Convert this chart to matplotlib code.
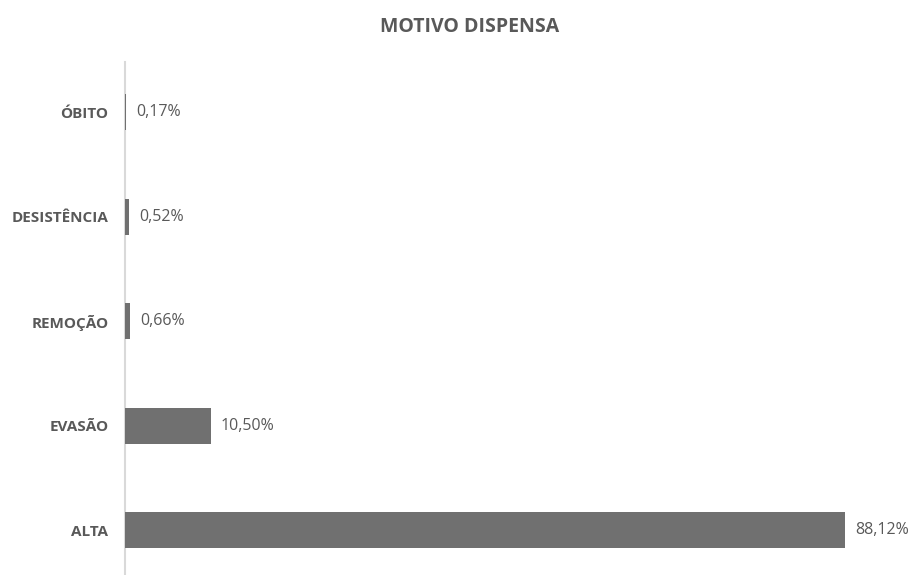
import matplotlib.pyplot as plt

plt.rcParams['font.family'] = ['Open Sans', 'DejaVu Sans']

categorias = ["ALTA", "EVASÃO", "REMOÇÃO", "DESISTÊNCIA", "ÓBITO"]
percentuais = [88.12, 10.50, 0.66, 0.52, 0.17]
rotulos = ["88,12%", "10,50%", "0,66%", "0,52%", "0,17%"]

cinza = "#707070"
texto = "#595959"

fig = plt.figure(figsize=(9.14, 5.75), dpi=100)
ax = fig.add_axes([125 / 914, 0.0, 755 / 914, 513 / 575])

pos = range(len(categorias))
# barras acima do eixo para a de ÓBITO aparecer
ax.barh(pos, percentuais, height=0.345, color=cinza, zorder=3)

for y, v, r in zip(pos, percentuais, rotulos):
    ax.annotate(r, (v, y), xytext=(7, 0), textcoords="offset points",
                va="center", ha="left", fontsize=11.5, color=texto)

ax.set_xlim(0, 92.4)
ax.set_ylim(-0.43, 4.48)
ax.set_yticks(list(pos))
ax.set_yticklabels(categorias, fontsize=11, fontweight="bold", color=texto)
ax.tick_params(axis="y", length=0, pad=12)
ax.set_xticks([])

for s in ["top", "right", "bottom"]:
    ax.spines[s].set_visible(False)
ax.spines["left"].set_color("#d9d9d9")
ax.spines["left"].set_linewidth(1.5)
ax.spines["left"].set_zorder(1)

fig.text(470 / 914, 1 - 27 / 575, "MOTIVO DISPENSA", ha="center", va="center",
         fontsize=14, fontweight="bold", color=texto)

fig.savefig("out.png", dpi=100)
